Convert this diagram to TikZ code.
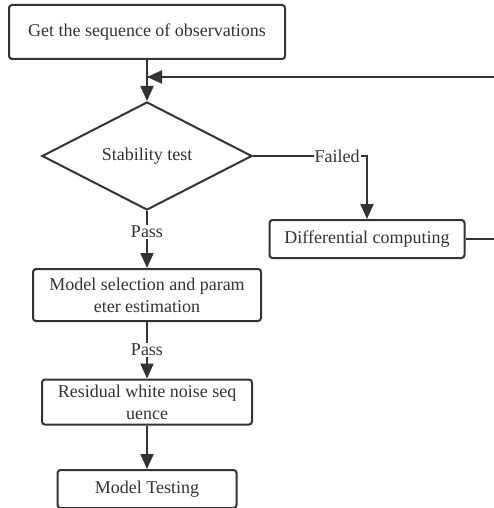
\documentclass[tikz,border=0pt]{standalone}
\usepackage{fontspec}
\setmainfont{Liberation Serif}
\usetikzlibrary{shapes.geometric,arrows.meta}
\definecolor{ink}{HTML}{333333}
\begin{document}
\begin{tikzpicture}[x=1pt,y=-1pt,
  every node/.style={text=ink,font=\fontsize{18}{22}\selectfont},
  procbox/.style={draw=ink,line width=2pt,rounded corners=3pt,inner sep=0pt,align=center},
  conn/.style={draw=ink,line width=2pt},
  arr/.style={conn,-{Triangle[length=15pt,width=13pt]}},
  lbl/.style={fill=white,inner sep=1pt}]
\useasboundingbox (0,0) rectangle (494,508);
\clip (0,0) rectangle (494,508);
\node[procbox,minimum width=276pt,minimum height=54pt] (obs) at (147,32) {Get the sequence of observations};
\node[diamond,draw=ink,line width=2pt,minimum width=210pt,minimum height=108pt,inner sep=0pt,aspect=1.94] (stab) at (147,156) {Stability test};
\node[procbox,minimum width=195pt,minimum height=38pt] (diff) at (367,239) {Differential computing};
\node[procbox,minimum width=228pt,minimum height=52pt] (model) at (147,295) {Model selection and param\\eter estimation};
\node[procbox,minimum width=210pt,minimum height=45pt] (resid) at (147,402) {Residual white noise seq\\uence};
\node[procbox,minimum width=179pt,minimum height=38pt] (test) at (147,489) {Model Testing};
\coordinate (join) at (147,77);
\coordinate (fbA) at (500,239);
\coordinate (fbB) at (500,77);
\coordinate (fcorner) at (367,156);
\draw[arr] (obs.south) -- (stab.north);
\draw[conn] (diff.east) -- (fbA) -- (fbB) -- (join);
\draw[arr] (fbB) -- (join);
\draw[arr] (stab.east) -- (fcorner) -- (diff.north);
\node[lbl] (failed) at (337,156) {Failed};
\draw[arr] (stab.south) -- (model.north);
\node[lbl] (pass1) at (147,232) {Pass};
\draw[arr] (model.south) -- (resid.north);
\node[lbl] (pass2) at (147,350) {Pass};
\draw[arr] (resid.south) -- (test.north);
\end{tikzpicture}
\end{document}
